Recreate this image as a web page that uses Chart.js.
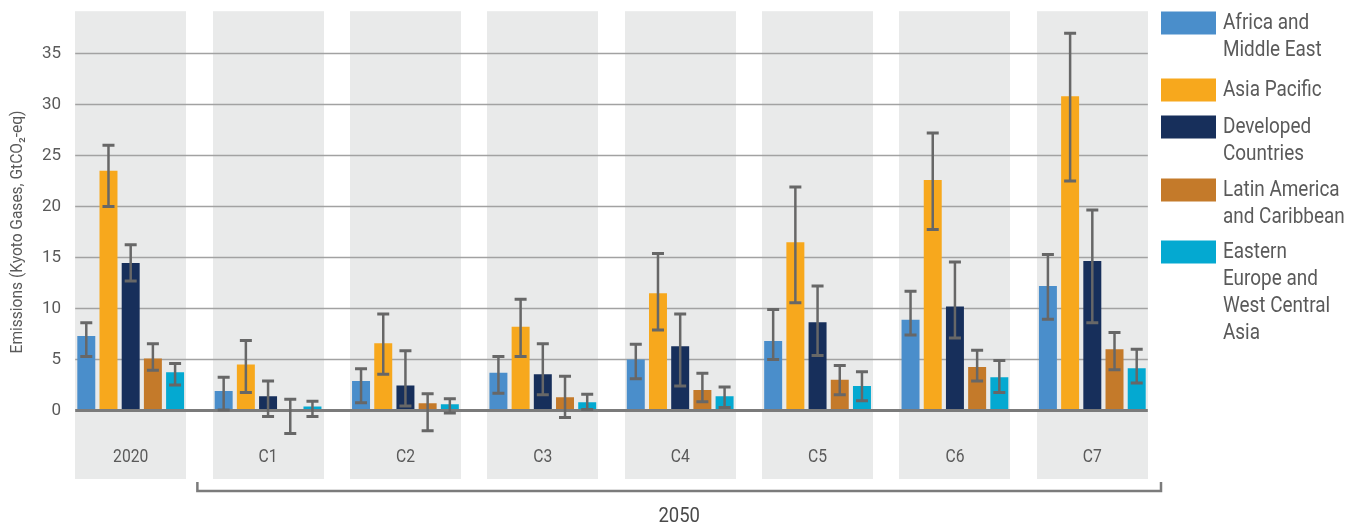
<!DOCTYPE html>
<html>
<head>
<meta charset="utf-8">
<script src="https://cdn.jsdelivr.net/npm/chart.js@4.4.1/dist/chart.umd.min.js"></script>
<style>
  html, body { margin: 0; padding: 0; background: #ffffff; }
  #wrap { width: 1361px; height: 527px; position: relative; }
</style>
</head>
<body>
<div id="wrap"><canvas id="c"></canvas></div>
<script>
// ---------- data ----------
const categories = ['2020', 'C1', 'C2', 'C3', 'C4', 'C5', 'C6', 'C7'];
const groupLabel = '2050';
const yTicks = [0, 5, 10, 15, 20, 25, 30, 35];
const yTitle = 'Emissions (Kyoto Gases, GtCO\u2082-eq)';

const seriesNames = ['Africa and Middle East', 'Asia Pacific', 'Developed Countries', 'Latin America and Caribbean', 'Eastern Europe and West Central Asia'];
const legendLines = [
  ['Africa and', 'Middle East'],
  ['Asia Pacific'],
  ['Developed', 'Countries'],
  ['Latin America', 'and Caribbean'],
  ['Eastern', 'Europe and', 'West Central', 'Asia']
];

const africa        = [7.3, 1.9, 2.9, 3.7, 5.0, 6.8, 8.9, 12.2];
const africaLow     = [5.3, 0.05, 0.75, 1.7, 3.1, 5.0, 7.4, 8.95];
const africaHigh    = [8.6, 3.25, 4.1, 5.3, 6.5, 9.9, 11.7, 15.3];

const asiaPacific     = [23.5, 4.5, 6.6, 8.2, 11.5, 16.5, 22.6, 30.8];
const asiaPacificLow  = [20.0, 1.75, 3.55, 5.3, 7.9, 10.55, 17.75, 22.5];
const asiaPacificHigh = [26.0, 6.85, 9.45, 10.9, 15.4, 21.9, 27.2, 37.0];

const developed     = [14.45, 1.4, 2.45, 3.55, 6.3, 8.65, 10.2, 14.65];
const developedLow  = [12.7, -0.6, 0.45, 1.55, 2.4, 5.4, 7.1, 8.6];
const developedHigh = [16.25, 2.9, 5.85, 6.55, 9.45, 12.2, 14.55, 19.65];

const latinAmerica     = [5.1, 0.1, 0.7, 1.3, 2.0, 3.0, 4.25, 6.0];
const latinAmericaLow  = [3.95, -2.25, -2.0, -0.7, 0.85, 1.55, 2.9, 4.0];
const latinAmericaHigh = [6.55, 1.1, 1.65, 3.35, 3.65, 4.4, 5.9, 7.65];

const easternEurope     = [3.75, 0.4, 0.6, 0.8, 1.4, 2.4, 3.25, 4.15];
const easternEuropeLow  = [2.5, -0.6, -0.25, 0.1, 0.3, 0.95, 1.75, 2.7];
const easternEuropeHigh = [4.6, 0.9, 1.15, 1.6, 2.3, 3.8, 4.9, 6.0];

// ---------- styles ----------
const colors = ['#4a8ecb', '#f7a81d', '#172f5b', '#c47a2a', '#04a9d1'];
const seriesValues = [africa, asiaPacific, developed, latinAmerica, easternEurope];
const seriesLow = [africaLow, asiaPacificLow, developedLow, latinAmericaLow, easternEuropeLow];
const seriesHigh = [africaHigh, asiaPacificHigh, developedHigh, latinAmericaHigh, easternEuropeHigh];

const CAT_PCT = 0.808;
const TEXT = '#5a5a5a';
const FONT = 'Roboto, "Open Sans", sans-serif';

const datasets = seriesNames.map((name, i) => ({
  label: name,
  data: seriesValues[i],
  errLow: seriesLow[i],
  errHigh: seriesHigh[i],
  backgroundColor: colors[i],
  borderWidth: 0,
  categoryPercentage: CAT_PCT,
  barPercentage: 0.81
}));

function condensedText(ctx, text, x, y, sx) {
  ctx.save();
  ctx.translate(x, y);
  ctx.scale(sx, 1);
  ctx.fillText(text, 0, 0);
  ctx.restore();
}

const decor = {
  id: 'decor',
  beforeDatasetsDraw(chart) {
    const { ctx, chartArea, scales } = chart;
    const xs = scales.x, ys = scales.y;
    const step = xs.getPixelForValue(1) - xs.getPixelForValue(0);
    const half = step * CAT_PCT / 2;
    ctx.save();
    // panels
    ctx.fillStyle = '#e9eaea';
    categories.forEach((c, i) => {
      const cx = xs.getPixelForValue(i);
      ctx.fillRect(Math.round(cx - half), chartArea.top, Math.round(2 * half), chartArea.bottom - chartArea.top);
    });
    // gridlines
    const gx0 = xs.getPixelForValue(0) - half;
    const gx1 = xs.getPixelForValue(categories.length - 1) + half;
    ctx.strokeStyle = '#a2a2a2';
    ctx.lineWidth = 1.6;
    yTicks.forEach(v => {
      if (v === 0) return;
      const y = ys.getPixelForValue(v);
      ctx.beginPath(); ctx.moveTo(gx0, y); ctx.lineTo(gx1, y); ctx.stroke();
    });
    // category labels
    ctx.fillStyle = TEXT;
    ctx.font = '18px ' + FONT;
    ctx.textAlign = 'center';
    ctx.textBaseline = 'middle';
    categories.forEach((c, i) => {
      condensedText(ctx, c, xs.getPixelForValue(i), 457, 0.87);
    });
    ctx.restore();
  },
  afterDatasetsDraw(chart) {
    const { ctx, chartArea, scales } = chart;
    const xs = scales.x, ys = scales.y;
    const step = xs.getPixelForValue(1) - xs.getPixelForValue(0);
    const half = step * CAT_PCT / 2;
    ctx.save();
    // zero line
    const gx0 = xs.getPixelForValue(0) - half;
    const gx1 = xs.getPixelForValue(categories.length - 1) + half;
    const y0 = ys.getPixelForValue(0);
    ctx.strokeStyle = '#7b7b7b';
    ctx.lineWidth = 3;
    ctx.beginPath(); ctx.moveTo(gx0, y0); ctx.lineTo(gx1, y0); ctx.stroke();

    // error bars
    ctx.strokeStyle = '#676767';
    chart.data.datasets.forEach((ds, di) => {
      const meta = chart.getDatasetMeta(di);
      meta.data.forEach((bar, i) => {
        const x = bar.x;
        const yl = ys.getPixelForValue(ds.errLow[i]);
        const yh = ys.getPixelForValue(ds.errHigh[i]);
        ctx.lineWidth = 2.5;
        ctx.beginPath(); ctx.moveTo(x, yl); ctx.lineTo(x, yh); ctx.stroke();
        ctx.lineWidth = 3;
        ctx.beginPath();
        ctx.moveTo(x - 6, yl); ctx.lineTo(x + 6, yl);
        ctx.moveTo(x - 6, yh); ctx.lineTo(x + 6, yh);
        ctx.stroke();
      });
    });

    // bracket for 2050
    const bx0 = xs.getPixelForValue(1) - step / 2 - 2;
    const bx1 = xs.getPixelForValue(categories.length - 1) + step / 2;
    const byTop = chartArea.bottom + 3, byBot = chartArea.bottom + 12;
    ctx.strokeStyle = '#7b7b7b';
    ctx.lineWidth = 2.5;
    ctx.beginPath();
    ctx.moveTo(bx0, byTop); ctx.lineTo(bx0, byBot); ctx.lineTo(bx1, byBot); ctx.lineTo(bx1, byTop);
    ctx.stroke();
    ctx.fillStyle = '#4a4a4a';
    ctx.font = '21px ' + FONT;
    ctx.textAlign = 'center';
    ctx.textBaseline = 'middle';
    condensedText(ctx, groupLabel, (bx0 + bx1) / 2, 517, 0.88);

    // y title
    ctx.save();
    ctx.fillStyle = TEXT;
    ctx.font = '16px ' + FONT;
    const ty = (ys.getPixelForValue(0) + ys.getPixelForValue(35)) / 2;
    ctx.translate(18, ty);
    ctx.rotate(-Math.PI / 2);
    ctx.textAlign = 'center';
    ctx.textBaseline = 'middle';
    ctx.scale(0.97, 1);
    ctx.fillText(yTitle, 0, 0);
    ctx.restore();

    // legend
    const lx = chartArea.right;
    const firstLineY = [23, 90, 127, 190, 252];
    ctx.font = '22px ' + FONT;
    ctx.textAlign = 'left';
    ctx.textBaseline = 'middle';
    legendLines.forEach((lines, i) => {
      const yy = firstLineY[i];
      ctx.fillStyle = colors[i];
      ctx.fillRect(lx, yy - 11.5, 55, 23);
      ctx.fillStyle = TEXT;
      lines.forEach((t, k) => condensedText(ctx, t, lx + 62, yy + k * 27, 0.86));
    });
    ctx.restore();
  }
};

new Chart(document.getElementById('c'), {
  type: 'bar',
  data: { labels: categories, datasets },
  options: {
    responsive: true,
    maintainAspectRatio: false,
    animation: false,
    layout: { padding: { left: 0, top: 11, right: 200, bottom: 48 } },
    plugins: { legend: { display: false }, tooltip: { enabled: false } },
    scales: {
      x: { display: false, offset: true },
      y: {
        min: -6.72,
        max: 39.15,
        afterFit(scale) { scale.width = 62; },
        afterBuildTicks(scale) { scale.ticks = yTicks.map(v => ({ value: v })); },
        grid: { display: false, drawTicks: false },
        border: { display: false },
        ticks: { color: TEXT, font: { family: FONT, size: 17 }, padding: 1 }
      }
    }
  },
  plugins: [decor]
});
</script>
</body>
</html>
